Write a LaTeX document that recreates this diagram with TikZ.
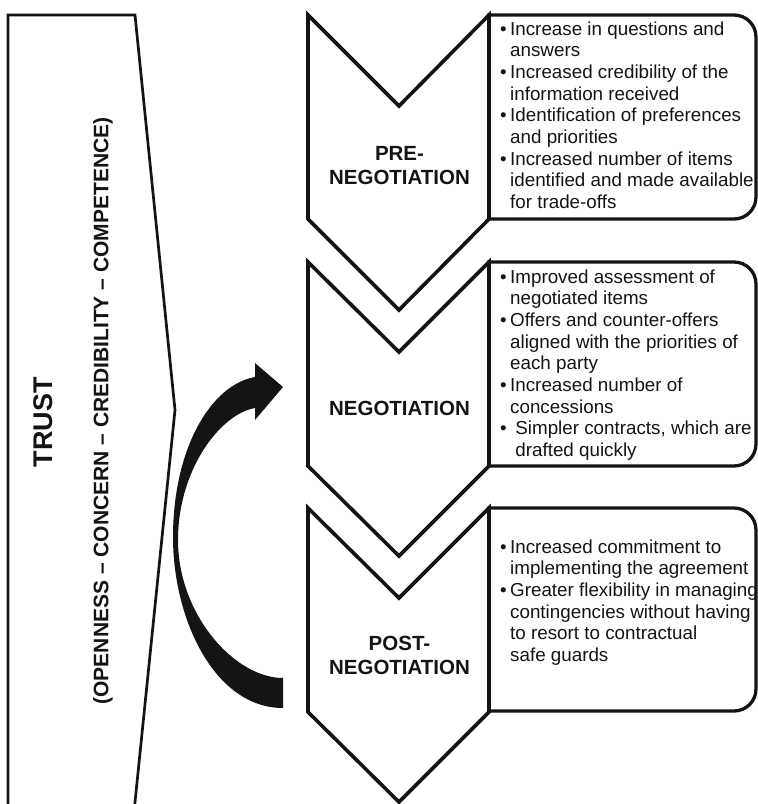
\documentclass[tikz,border=0pt]{standalone}
\usepackage{fontspec}
\setmainfont{Liberation Sans}
\begin{document}
\begin{tikzpicture}[x=1pt,y=1pt,
  frame/.style={draw=black!92, line width=2.7pt, line join=miter},
  chevron/.style={draw=black!92, line width=3.6pt, line join=miter},
  infobox/.style={draw=black!92, line width=3.3pt, line join=miter},
  stage/.style={font=\fontsize{20.5}{24}\selectfont\bfseries, align=center, text=black!92, inner sep=0pt},
  bullets/.style={font=\fontsize{18.8}{21.7}\selectfont, text=black!92, inner sep=0pt, anchor=west},
  sideways/.style={rotate=90, text=black!92, inner sep=0pt, font=\bfseries},
]
\useasboundingbox (0,0) rectangle (758,-804);

% trust band on the left
\draw[frame] (8,-812) -- (8,-15) -- (135,-15) -- (175,-410) -- (134,-812);
\node[sideways, font=\fontsize{27}{30}\selectfont\bfseries] (trust) at (43,-422) {TRUST};
\node[sideways, font=\fontsize{21}{24}\selectfont\bfseries] (facets) at (103,-411)
  {(OPENNESS – CONCERN – CREDIBILITY – COMPETENCE)};

% information boxes (square on the left, rounded on the right)
\draw[infobox] (489,-15) -- (734,-15) arc[start angle=90, end angle=0, radius=22pt]
  -- (756,-197) arc[start angle=0, end angle=-90, radius=22pt] -- (489,-219) -- cycle;
\draw[infobox] (489,-262) -- (734,-262) arc[start angle=90, end angle=0, radius=22pt]
  -- (756,-444) arc[start angle=0, end angle=-90, radius=22pt] -- (489,-466) -- cycle;
\draw[infobox] (489,-508) -- (734,-508) arc[start angle=90, end angle=0, radius=22pt]
  -- (756,-689) arc[start angle=0, end angle=-90, radius=22pt] -- (489,-711) -- cycle;

% stage chevrons
\draw[chevron] (308,-15) -- (399,-106) -- (489,-15) -- (489,-219) -- (399,-310) -- (308,-219) -- cycle;
\draw[chevron] (308,-262) -- (399,-352) -- (489,-262) -- (489,-466) -- (399,-556) -- (308,-466) -- cycle;
\draw[chevron] (308,-508) -- (399,-598) -- (489,-508) -- (489,-712) -- (399,-802) -- (308,-712) -- cycle;

\node[stage] (pre)  at (399.5,-166) {PRE-\\NEGOTIATION};
\node[stage] (neg)  at (399.5,-408) {NEGOTIATION};
\node[stage] (post) at (399.5,-655) {POST-\\NEGOTIATION};

% bullet lists
\node[bullets] (prelist) at (500,-117.5) {\begin{tabular}{@{}l@{\hspace{3.4pt}}l@{}}
•&Increase in questions and\\
 &answers\\
•&Increased credibility of the\\
 &information received\\
•&Identification of preferences\\
 &and priorities\\
•&Increased number of items\\
 &identified and made available\\
 &for trade-offs
\end{tabular}};

\node[bullets] (neglist) at (500,-365.5) {\begin{tabular}{@{}l@{\hspace{3.4pt}}l@{}}
•&Improved assessment of\\
 &negotiated items\\
•&Offers and counter-offers\\
 &aligned with the priorities of\\
 &each party\\
•&Increased number of\\
 &concessions\\
•&\ Simpler contracts, which are\\
 &\ drafted quickly
\end{tabular}};

\node[bullets] (postlist) at (500,-603) {\begin{tabular}{@{}l@{\hspace{3.4pt}}l@{}}
•&Increased commitment to\\
 &implementing the agreement\\
•&Greater flexibility in managing\\
 &contingencies without having\\
 &to resort to contractual\\
 &safe guards
\end{tabular}};

% curved feedback arrow
\fill[black!92] (283,-708) .. controls (215,-708) and (173,-620) .. (173,-537)
  .. controls (173,-450) and (210,-385) .. (255,-377)
  -- (255,-363) -- (283,-387) -- (255,-420) -- (255,-408)
  .. controls (220,-414) and (178,-470) .. (178,-540)
  .. controls (178,-615) and (235,-678) .. (283,-678) -- cycle;
\end{tikzpicture}
\end{document}
